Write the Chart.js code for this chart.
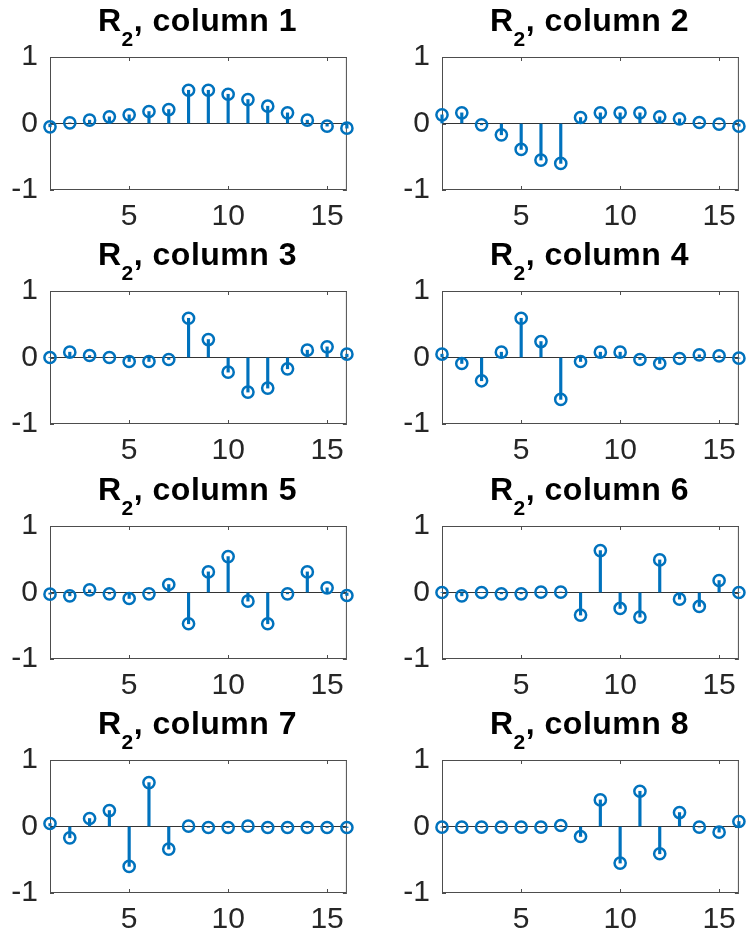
<!DOCTYPE html>
<html lang="en">
<head>
<meta charset="UTF-8">
<title>R2 columns</title>
<script src="https://cdn.jsdelivr.net/npm/chart.js"></script>
<style>
  body { margin: 0; background: #fff; }
  #fig { position: relative; width: 747px; height: 935px; overflow: hidden; }
  .panel { position: absolute; width: 355px; height: 234px; }
  .panel canvas { position: absolute; left: 0; top: 0; }
  .title {
    position: absolute; left: 48px; width: 299px; top: 5px;
    text-align: center; color: #000; white-space: nowrap;
    font: bold 32px "Liberation Sans", Arial, sans-serif; line-height: 30px;
    letter-spacing: 0.5px;
  }
  .title span { font-size: 21px; position: relative; top: 15px; }
</style>
</head>
<body>
<div id="fig"></div>
<script>
// sample index (x) and tick labels
const xs = [1, 2, 3, 4, 5, 6, 7, 8, 9, 10, 11, 12, 13, 14, 15, 16];
const xTicks = [5, 10, 15];
const yTicks = [-1, 0, 1];

// columns of R2
const col1 = [-0.05, 0.01, 0.05, 0.10, 0.13, 0.18, 0.21, 0.50, 0.50, 0.44, 0.36, 0.26, 0.16, 0.05, -0.04, -0.07];
const col2 = [0.13, 0.16, -0.02, -0.17, -0.39, -0.55, -0.60, 0.09, 0.16, 0.16, 0.16, 0.10, 0.07, 0.015, -0.01, -0.04];
const col3 = [0.00, 0.08, 0.03, 0.00, -0.06, -0.06, -0.03, 0.59, 0.27, -0.22, -0.52, -0.46, -0.17, 0.11, 0.16, 0.05];
const col4 = [0.05, -0.09, -0.35, 0.08, 0.59, 0.24, -0.63, -0.06, 0.08, 0.08, -0.03, -0.09, -0.015, 0.04, 0.025, -0.01];
const col5 = [-0.025, -0.05, 0.04, -0.02, -0.09, -0.02, 0.12, -0.47, 0.31, 0.54, -0.13, -0.47, -0.02, 0.31, 0.07, -0.045];
const col6 = [0.00, -0.05, 0.00, -0.02, -0.02, 0.005, 0.005, -0.34, 0.63, -0.24, -0.37, 0.49, -0.10, -0.21, 0.18, 0.00];
const col7 = [0.045, -0.17, 0.12, 0.24, -0.60, 0.66, -0.34, 0.005, -0.015, -0.015, 0.005, -0.015, -0.015, -0.015, -0.015, -0.015];
const col8 = [-0.01, -0.01, -0.01, -0.01, -0.01, -0.01, 0.015, -0.15, 0.40, -0.55, 0.53, -0.41, 0.21, -0.01, -0.085, 0.075];

const columns = [col1, col2, col3, col4, col5, col6, col7, col8];

const blue = '#0072BD';
const axisColor = '#262626';
const tickFont = { family: '"Liberation Sans", Arial, sans-serif', size: 30 };

// axes box with inward tick marks, like matlab
const boxPlugin = {
  id: 'box',
  beforeDatasetsDraw(chart) {
    const { ctx, chartArea: a, scales: { x, y } } = chart;
    ctx.save();
    ctx.strokeStyle = '#4d4d4d';
    ctx.lineWidth = 1;
    ctx.strokeRect(a.left + 0.5, a.top + 0.5, a.right - a.left - 1, a.bottom - a.top - 1);
    ctx.beginPath();
    xTicks.forEach(v => {
      const px = Math.round(x.getPixelForValue(v)) + 0.5;
      ctx.moveTo(px, a.bottom); ctx.lineTo(px, a.bottom - 4);
      ctx.moveTo(px, a.top); ctx.lineTo(px, a.top + 4);
    });
    yTicks.forEach(v => {
      const py = Math.round(y.getPixelForValue(v)) + 0.5;
      ctx.moveTo(a.left, py); ctx.lineTo(a.left + 4, py);
      ctx.moveTo(a.right, py); ctx.lineTo(a.right - 4, py);
    });
    ctx.stroke();
    ctx.restore();
  }
};

function makePanel(i, values) {
  const col = i % 2;
  const row = Math.floor(i / 2);
  const panel = document.createElement('div');
  panel.className = 'panel';
  panel.style.left = (col * 392) + 'px';
  panel.style.top = Math.round(row * 234.3) + 'px';

  const title = document.createElement('div');
  title.className = 'title';
  title.innerHTML = 'R<span>2</span>, column ' + (i + 1);

  const canvas = document.createElement('canvas');
  canvas.width = 355;
  canvas.height = 234;
  panel.appendChild(canvas);
  panel.appendChild(title);
  document.getElementById('fig').appendChild(panel);

  new Chart(canvas, {
    type: 'bar',
    data: {
      datasets: [
        {
          type: 'line',
          data: xs.map((x, k) => ({ x: x, y: values[k] })),
          showLine: false,
          borderColor: blue,
          backgroundColor: 'rgba(0,0,0,0)',
          pointRadius: 5.6,
          pointHoverRadius: 5.6,
          pointBorderWidth: 2.5,
          clip: false,
          order: 0
        },
        {
          type: 'bar',
          data: xs.map((x, k) => ({ x: x, y: [0, values[k]] })),
          backgroundColor: blue,
          barThickness: 2.5,
          clip: false,
          order: 1
        }
      ]
    },
    options: {
      responsive: false,
      animation: false,
      events: [],
      layout: { padding: { left: 0, right: 6, top: 57, bottom: 0 } },
      plugins: { legend: { display: false }, tooltip: { enabled: false } },
      scales: {
        x: {
          type: 'linear', min: 1, max: 16, offset: false,
          grid: { display: false, drawTicks: false },
          border: { display: false },
          ticks: { font: tickFont, color: axisColor, padding: 9, maxRotation: 0 },
          afterBuildTicks: s => { s.ticks = xTicks.map(v => ({ value: v })); },
          afterFit: s => { s.height = 44; }
        },
        y: {
          type: 'linear', min: -1, max: 1,
          grid: {
            drawTicks: false,
            color: c => (c.tick && c.tick.value === 0) ? '#333333' : 'rgba(0,0,0,0)'
          },
          border: { display: false },
          ticks: { font: tickFont, color: axisColor, padding: 12 },
          afterBuildTicks: s => { s.ticks = yTicks.map(v => ({ value: v })); },
          afterFit: s => { s.width = 50; }
        }
      }
    },
    plugins: [boxPlugin]
  });
}

columns.forEach((values, i) => makePanel(i, values));
</script>
</body>
</html>
